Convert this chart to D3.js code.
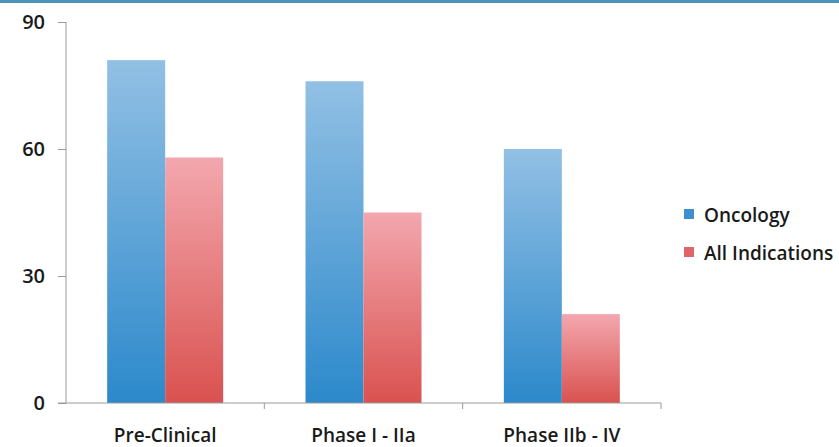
<!DOCTYPE html>
<html><head><meta charset="utf-8">
<script src="https://cdn.jsdelivr.net/npm/d3@7"></script>
<style>body{margin:0;background:#fff;}svg{display:block;}</style>
</head><body>
<svg id="c" width="839" height="447"></svg>
<script>
const categories = ["Pre-Clinical", "Phase I - IIa", "Phase IIb - IV"];
const seriesNames = ["Oncology", "All Indications"];
const oncology = [81, 76, 60];
const allIndications = [58, 45, 21];
const yTicks = [0, 30, 60, 90];

const svg = d3.select("#c");
const font = "'Open Sans', sans-serif";
const plotLeft = 66, plotRight = 661, plotTop = 22, plotBottom = 403;

svg.append("rect").attr("x",0).attr("y",0).attr("width",839).attr("height",3).attr("fill","#4a96b9");

const x = d3.scaleBand().domain(categories).range([plotLeft, plotRight]).paddingInner(0).paddingOuter(0);
const xs = d3.scaleBand().domain(seriesNames).range([0, x.bandwidth()]).paddingInner(0).paddingOuter(0.71);
const y = d3.scaleLinear().domain([0, 90]).range([plotBottom, plotTop]);

const defs = svg.append("defs");
function grad(id, c1, c2){
  const g = defs.append("linearGradient").attr("id", id).attr("x1",0).attr("y1",0).attr("x2",0).attr("y2",1);
  g.append("stop").attr("offset","0%").attr("stop-color",c1);
  g.append("stop").attr("offset","100%").attr("stop-color",c2);
}
grad("gBlue", "#92c0e4", "#2c89cb");
grad("gRed", "#f3a7ae", "#d9524f");
const fills = {"Oncology":"url(#gBlue)", "All Indications":"url(#gRed)"};
const legendColors = {"Oncology":"#3d8fd0", "All Indications":"#e0646a"};

const data = categories.map((c,i)=>({cat:c, vals:[{s:seriesNames[0], v:oncology[i]},{s:seriesNames[1], v:allIndications[i]}]}));

const g = svg.append("g");
g.selectAll("g.cat").data(data).join("g").attr("class","cat")
  .attr("transform", d=>`translate(${x(d.cat)},0)`)
  .selectAll("rect").data(d=>d.vals).join("rect")
  .attr("x", d=>xs(d.s)).attr("width", xs.bandwidth())
  .attr("y", d=>y(d.v)).attr("height", d=>plotBottom - y(d.v))
  .attr("fill", d=>fills[d.s]);

// y axis
const yAxis = svg.append("g").attr("transform",`translate(${plotLeft},0)`)
  .call(d3.axisLeft(y).tickValues(yTicks).tickSize(8).tickPadding(13));
yAxis.select(".domain").attr("stroke","#9a9a9a").attr("d",`M0,${plotTop}V${plotBottom}`);
yAxis.selectAll(".tick line").attr("stroke","#9a9a9a");
yAxis.selectAll(".tick text").attr("font-family",font).attr("font-size",20).attr("font-weight",600).attr("fill","#1a1a1a");

// x axis
const xAxis = svg.append("g").attr("transform",`translate(0,${plotBottom})`)
  .call(d3.axisBottom(x).tickSize(0).tickPadding(26));
xAxis.select(".domain").attr("stroke","#9a9a9a").attr("d",`M${plotLeft-8},0H${plotRight}`);
xAxis.selectAll(".tick text").attr("font-family",font).attr("font-size",19).attr("font-weight",600).attr("fill","#1a1a1a");
const bounds = categories.map(c=>x(c)+x.bandwidth());
xAxis.selectAll("line.div").data(bounds).join("line").attr("class","div")
  .attr("x1",d=>d).attr("x2",d=>d).attr("y1",0).attr("y2",6).attr("stroke","#9a9a9a");

// legend
const lg = svg.append("g").attr("transform","translate(684,0)");
const ly = [215, 253];
seriesNames.forEach((s,i)=>{
  lg.append("rect").attr("x",0).attr("y",ly[i]-6).attr("width",10).attr("height",10).attr("fill",legendColors[s]);
  lg.append("text").attr("x",20).attr("y",ly[i]).attr("dy","0.35em")
    .attr("font-family",font).attr("font-size",19).attr("font-weight",600).attr("fill","#1a1a1a").text(s);
});
</script>
</body></html>
